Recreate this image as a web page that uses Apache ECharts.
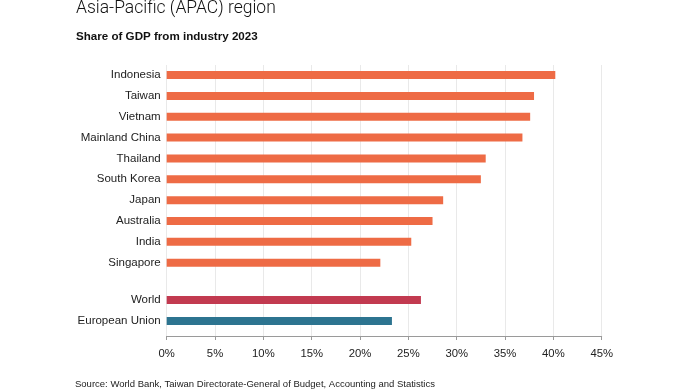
<!DOCTYPE html>
<html>
<head>
<meta charset="utf-8">
<script src="https://cdn.jsdelivr.net/npm/echarts@6/dist/echarts.min.js"></script>
<style>
html,body{margin:0;padding:0;background:#fff;}
#chart{width:696px;height:390px;}
</style>
</head>
<body>
<div id="chart"></div>
<script>
const apacCategories = ['Indonesia','Taiwan','Vietnam','Mainland China','Thailand','South Korea','Japan','Australia','India','Singapore'];
const apacValues = [40.2, 38.0, 37.6, 36.8, 33.0, 32.5, 28.6, 27.5, 25.3, 22.1];
const refCategories = ['World','European Union'];
const refValues = [26.3, 23.3];
const refColors = ['#c23a50','#2d7490'];
const xTicks = [0,5,10,15,20,25,30,35,40,45];

const FONT = '"Liberation Sans", Arial, sans-serif';
const chart = echarts.init(document.getElementById('chart'), null, {renderer:'canvas'});

const L = 166.7, R = 696 - 601.7;
const xMin = xTicks[0], xMax = xTicks[xTicks.length-1], xInt = xTicks[1]-xTicks[0];

const option = {
  animation: false,
  backgroundColor: '#fff',
  grid: [
    {left: L, right: R, top: 65, bottom: 390-336, containLabel: false},
    {left: L, right: R, top: 64.6, height: 208.5, containLabel: false},
    {left: L, right: R, top: 289.5, height: 42, containLabel: false}
  ],
  xAxis: [
    {gridIndex:0, type:'value', min:xMin, max:xMax, interval:xInt,
     axisLine:{show:true, lineStyle:{color:'#9a9a9a', width:1}},
     axisTick:{show:true, length:4, lineStyle:{color:'#9a9a9a'}},
     axisLabel:{formatter:'{value}%', color:'#222', fontSize:11.3, fontFamily:FONT, margin:12},
     splitLine:{show:true, lineStyle:{color:'#e9e9e9', width:1}}},
    {gridIndex:1, type:'value', min:xMin, max:xMax, show:false, splitLine:{show:false}},
    {gridIndex:2, type:'value', min:xMin, max:xMax, show:false, splitLine:{show:false}}
  ],
  yAxis: [
    {gridIndex:0, type:'category', data:[''], show:false},
    {gridIndex:1, type:'category', data:apacCategories, inverse:true,
     axisLine:{show:false}, axisTick:{show:false},
     axisLabel:{color:'#222', fontSize:11.5, fontFamily:FONT, margin:6}},
    {gridIndex:2, type:'category', data:refCategories, inverse:true,
     axisLine:{show:false}, axisTick:{show:false},
     axisLabel:{color:'#222', fontSize:11.5, fontFamily:FONT, margin:6}}
  ],
  series: [
    {type:'bar', xAxisIndex:1, yAxisIndex:1, data:apacValues, barWidth:8,
     itemStyle:{color:'#ee6b45'}, silent:true},
    {type:'bar', xAxisIndex:2, yAxisIndex:2, barWidth:8, silent:true,
     data: refValues.map((v,i)=>({value:v, itemStyle:{color:refColors[i]}}))}
  ],
  graphic: [
    {type:'text', left:76, top:-0.5, style:{text:'Asia-Pacific (APAC) region', font:'300 17.5px Roboto, "Liberation Sans", sans-serif', fill:'#111'}},
    {type:'text', left:76, top:30.5, style:{text:'Share of GDP from industry 2023', font:'bold 11.6px '+FONT, fill:'#111'}},
    {type:'text', left:75, top:379, style:{text:'Source: World Bank, Taiwan Directorate-General of Budget, Accounting and Statistics', font:'9.5px '+FONT, fill:'#222'}}
  ]
};
chart.setOption(option);
</script>
</body>
</html>
